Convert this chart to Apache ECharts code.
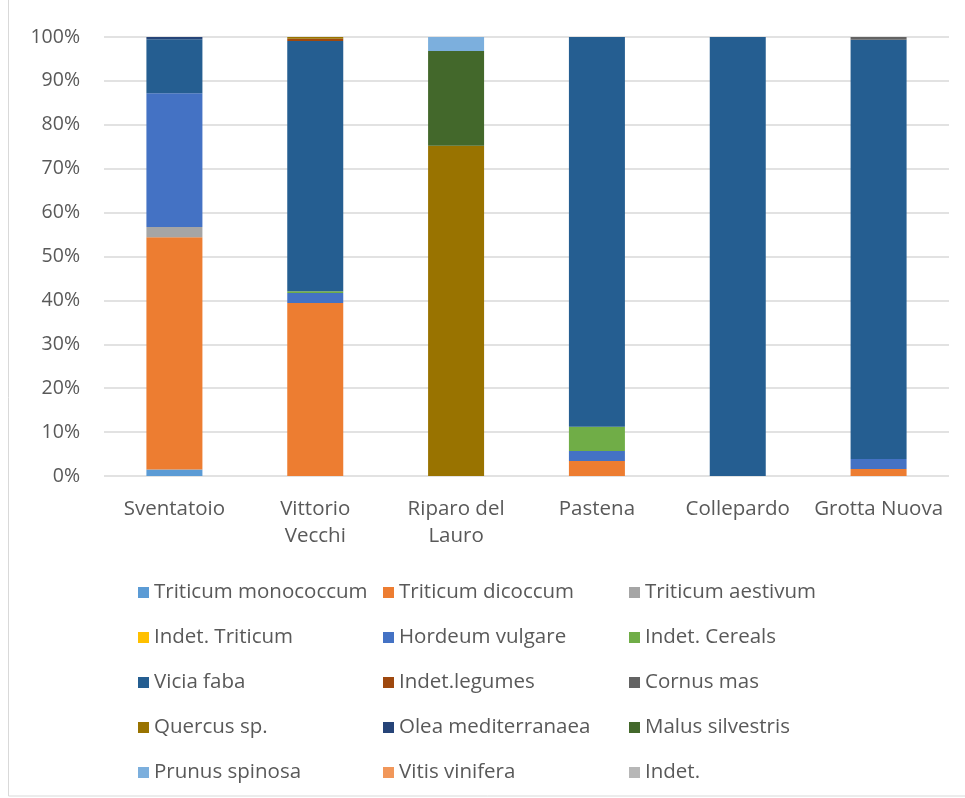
<!DOCTYPE html>
<html>
<head>
<meta charset="utf-8">
<script src="https://cdn.jsdelivr.net/npm/echarts@6/dist/echarts.min.js"></script>
<style>html,body{margin:0;padding:0;background:#fff}#c{width:965px;height:798px}</style>
</head>
<body>
<div id="c"></div>
<script>
var categories = ['Sventatoio', 'Vittorio\nVecchi', 'Riparo del\nLauro', 'Pastena', 'Collepardo', 'Grotta Nuova'];
var yTicks = ['0%','10%','20%','30%','40%','50%','60%','70%','80%','90%','100%'];

var triticumMonococcum = [1.5, 0, 0, 0, 0, 0];
var triticumDicoccum   = [52.9, 39.4, 0, 3.4, 0, 1.6];
var triticumAestivum   = [2.3, 0, 0, 0, 0, 0];
var indetTriticum      = [0, 0, 0, 0, 0, 0];
var hordeumVulgare     = [30.5, 2.3, 0, 2.3, 0, 2.3];
var indetCereals       = [0, 0.4, 0, 5.5, 0, 0];
var viciaFaba          = [12.3, 57.0, 0, 88.8, 100, 95.5];
var indetLegumes       = [0, 0.5, 0, 0, 0, 0];
var cornusMas          = [0, 0, 0, 0, 0, 0.6];
var quercusSp          = [0, 0.4, 75.2, 0, 0, 0];
var oleaMediterranaea  = [0.5, 0, 0, 0, 0, 0];
var malusSilvestris    = [0, 0, 21.6, 0, 0, 0];
var prunusSpinosa      = [0, 0, 3.2, 0, 0, 0];
var vitisVinifera      = [0, 0, 0, 0, 0, 0];
var indet              = [0, 0, 0, 0, 0, 0];

var seriesNames = ['Triticum monococcum','Triticum dicoccum','Triticum aestivum','Indet. Triticum','Hordeum vulgare','Indet. Cereals','Vicia faba','Indet.legumes','Cornus mas','Quercus sp.','Olea mediterranaea','Malus silvestris','Prunus spinosa','Vitis vinifera','Indet.'];
var seriesData = [triticumMonococcum, triticumDicoccum, triticumAestivum, indetTriticum, hordeumVulgare, indetCereals, viciaFaba, indetLegumes, cornusMas, quercusSp, oleaMediterranaea, malusSilvestris, prunusSpinosa, vitisVinifera, indet];
var colors = ['#5B9BD5','#ED7D31','#A5A5A5','#FFC000','#4472C4','#70AD47','#255E91','#9E480E','#636363','#997300','#264478','#43682B','#7CAFDD','#F1975A','#B7B7B7'];

var FONT = '"Open Sans"';
var series = seriesNames.map(function(n, i){
  return { name: n, type: 'bar', stack: 'total', barWidth: 56, data: seriesData[i],
           itemStyle: { color: colors[i] }, emphasis: { disabled: true } };
});

function col(idx, left){
  return {
    orient: 'vertical', left: left, top: 577, itemWidth: 11, itemHeight: 11, itemGap: 24,
    icon: 'rect',
    data: idx.map(function(i){ return seriesNames[i]; }),
    textStyle: { fontFamily: FONT, fontSize: 20.5, color: '#595959', lineHeight: 20 },
    selectedMode: false
  };
}

var chart = echarts.init(document.getElementById('c'), null, { renderer: 'canvas' });
chart.setOption({
  animation: false,
  color: colors,
  textStyle: { fontFamily: FONT },
  grid: { left: 104, right: 16, top: 37, bottom: 322, containLabel: false },
  xAxis: {
    type: 'category', data: categories,
    axisLine: { show: false }, axisTick: { show: false },
    axisLabel: { fontFamily: FONT, fontSize: 20.5, color: '#595959', margin: 20, lineHeight: 27, interval: 0 }
  },
  yAxis: {
    type: 'value', min: 0, max: 100, interval: 10,
    axisLine: { show: false }, axisTick: { show: false },
    splitLine: { lineStyle: { color: '#d9d9d9', width: 1.5 } },
    axisLabel: { fontFamily: FONT, fontSize: 19.5, color: '#595959', margin: 24,
      formatter: function(v){ return yTicks[Math.round(v/10)]; } }
  },
  legend: [ col([0,3,6,9,12], 133), col([1,4,7,10,13], 378), col([2,5,8,11,14], 624) ],
  graphic: [{ type: 'rect', shape: { x: 8.5, y: -5, width: 980, height: 801 }, style: { fill: 'none', stroke: '#d9d9d9', lineWidth: 1 }, silent: true }],
  series: series
});
</script>
</body>
</html>
